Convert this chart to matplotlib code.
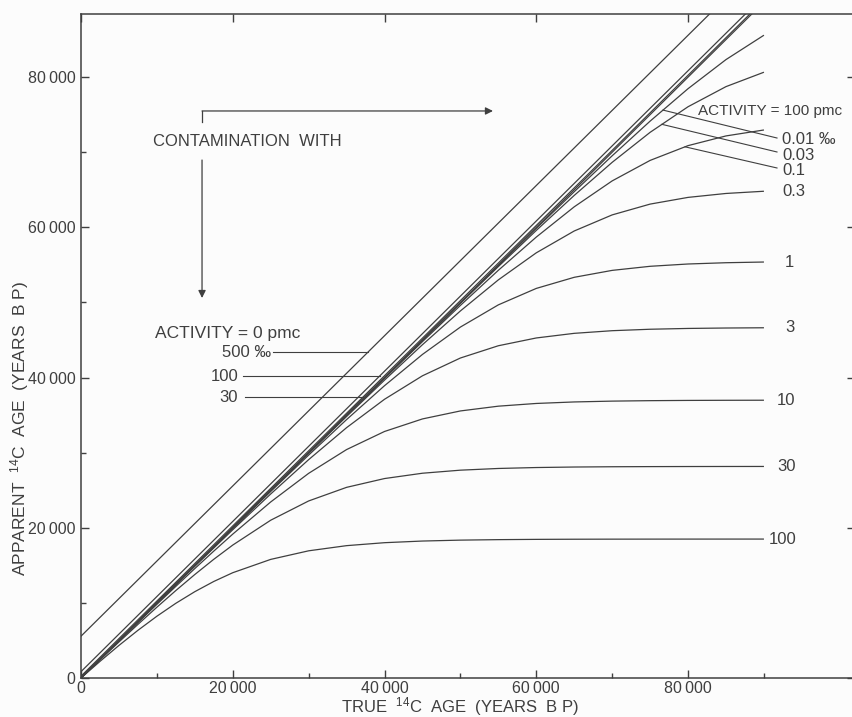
import numpy as np
import matplotlib
matplotlib.use("Agg")
import matplotlib.pyplot as plt

plt.rcParams["font.family"] = ["Liberation Sans", "DejaVu Sans"]
plt.rcParams["mathtext.default"] = "regular"

# true 14C age (years BP) at which the curves are tabulated
TRUE_AGE = [0, 2500, 5000, 7500, 10000, 12500, 15000, 17500, 20000, 25000, 30000,
            35000, 40000, 45000, 50000, 55000, 60000, 65000, 70000, 75000, 80000,
            85000, 90000]

# apparent age after contamination with modern carbon (activity = 100 pmc)
MOD_0_01 = [0, 2500, 5000, 7500, 10000, 12500, 15000, 17500, 19999, 24998, 29997,
            34994, 39988, 44978, 49960, 54925, 59860, 64742, 69525, 74137, 78459,
            82332, 85577]
MOD_0_03 = [0, 2500, 5000, 7500, 9999, 12499, 14999, 17498, 19997, 24995, 29990,
            34981, 39965, 44935, 49879, 54777, 59588, 64249, 68653, 72647, 76054,
            78732, 80650]
MOD_0_1 = [0, 2500, 4999, 7499, 9998, 12497, 14996, 17494, 19991, 24983, 29967,
           34938, 39885, 44786, 49605, 54278, 58703, 62730, 66181, 68909, 70875,
           72168, 72960]
MOD_0_3 = [0, 2499, 4998, 7496, 9994, 12491, 14987, 17481, 19973, 24948, 29902,
           34816, 39659, 44374, 48869, 53005, 56606, 59513, 61654, 63092, 63985,
           64508, 64803]
MOD_1 = [0, 2497, 4993, 7488, 9980, 12470, 14956, 17437, 19912, 24829, 29678,
         34404, 38916, 43080, 46722, 49677, 51867, 53346, 54268, 54811, 55118,
         55287, 55380]
MOD_3 = [0, 2491, 4979, 7463, 9941, 12410, 14869, 17313, 19738, 24499, 29071,
         33330, 37109, 40234, 42602, 44234, 45270, 45886, 46237, 46431, 46538,
         46595, 46627]
MOD_10 = [0, 2471, 4931, 7377, 9804, 12205, 14572, 16894, 19157, 23437, 27247,
          30412, 32821, 34491, 35554, 36189, 36551, 36752, 36862, 36922, 36955,
          36972, 36981]
MOD_30 = [0, 2412, 4795, 7136, 9425, 11646, 13779, 15805, 17699, 21006, 23571,
          25382, 26554, 27262, 27669, 27896, 28020, 28088, 28124, 28143, 28154,
          28160, 28163]
MOD_100 = [0, 2212, 4335, 6347, 8225, 9948, 11494, 12853, 14018, 15791, 16933,
           17620, 18014, 18234, 18355, 18420, 18456, 18475, 18485, 18490, 18493,
           18495, 18496]

# contamination with dead carbon (activity = 0 pmc): straight lines
LINE_TRUE = [0, 90000]
NO_CONTAM = [0, 90000]
DEAD_500 = [5568, 95568]
DEAD_100 = [846, 90846]
DEAD_30 = [245, 90245]

X_TICKS = [0, 20000, 40000, 60000, 80000]
X_TICK_LABELS = ["0", "20\u2009000", "40\u2009000", "60\u2009000", "80\u2009000"]
Y_TICKS = [0, 20000, 40000, 60000, 80000]
Y_TICK_LABELS = ["0", "20\u2009000", "40\u2009000", "60\u2009000", "80\u2009000"]

INK = "#3f3f3f"
FS = 12

fig = plt.figure(figsize=(8.52, 7.17), dpi=100)
fig.patch.set_facecolor("#fcfcfc")
ax = fig.add_axes([81 / 852, 39 / 717, 774 / 852, 664 / 717])
ax.set_facecolor("none")
ax.set_xlim(0, 102000)
ax.set_ylim(0, 88400)

modern = [MOD_0_01, MOD_0_03, MOD_0_1, MOD_0_3, MOD_1, MOD_3, MOD_10, MOD_30, MOD_100]
for curve in modern:
    ax.plot(TRUE_AGE, curve, color=INK, lw=0.9, solid_capstyle="butt")
for line in [NO_CONTAM, DEAD_30, DEAD_100, DEAD_500]:
    ax.plot(LINE_TRUE, line, color=INK, lw=0.9)

# axes frame and ticks
for s in ax.spines.values():
    s.set_color(INK)
    s.set_linewidth(1.1)
ax.set_xticks(X_TICKS, X_TICK_LABELS)
ax.set_yticks(Y_TICKS, Y_TICK_LABELS)
ax.set_xticks(np.arange(10000, 100000, 20000), minor=True)
ax.set_yticks(np.arange(10000, 80000, 20000), minor=True)
ax.tick_params(which="major", direction="in", length=5.5, width=1.0, color=INK,
               top=True, right=True, labelsize=11.5, labelcolor=INK)
ax.tick_params(which="minor", direction="in", length=3.5, width=1.0, color=INK,
               top=False, right=False)
ax.tick_params(axis="x", pad=2.5)
ax.tick_params(axis="y", pad=4)

ax.set_xlabel("TRUE  $^{14}$C  AGE  (YEARS  B P)", fontsize=FS, color=INK)
ax.xaxis.set_label_coords((460 - 81) / 774, -(707 - 678) / 664)
ax.xaxis.label.set_va("center")
ax.set_ylabel("APPARENT  $^{14}$C  AGE  (YEARS  B P)", fontsize=12.5, color=INK,
              rotation_mode="anchor")
ax.yaxis.set_label_coords((20 - 81) / 774, (678 - 428) / 664)
ax.yaxis.label.set_va("center")
ax.yaxis.label.set_ha("center")

# contamination arrows
ax.plot([15950, 15950], [75490, 74020], color=INK, lw=0.9)
ax.annotate("", xy=(54290, 75490), xytext=(15950, 75490),
            arrowprops=dict(arrowstyle="-|>", color=INK, lw=0.9, mutation_scale=11,
                            shrinkA=0, shrinkB=0))
ax.annotate("", xy=(15950, 50590), xytext=(15950, 68960),
            arrowprops=dict(arrowstyle="-|>", color=INK, lw=0.9, mutation_scale=11,
                            shrinkA=0, shrinkB=0))
ax.text(9490, 71360, "CONTAMINATION  WITH", fontsize=FS, color=INK, va="center")

# dead carbon labels
ax.text(9750, 45800, "ACTIVITY = 0 pmc", fontsize=12.5, color=INK, va="center")
dead_labels = [("500 \u2030", DEAD_500, 25040, 25300, 43400),
               ("100", DEAD_100, 20820, 21350, 40200),
               ("30", DEAD_30, 20690, 21610, 37410)]
for txt, line, xt, x0, y in dead_labels:
    ax.text(xt, y, txt, fontsize=FS, color=INK, ha="right", va="center")
    x1 = np.interp(y, line, LINE_TRUE)
    ax.plot([x0, x1], [y, y], color=INK, lw=0.8)

# modern carbon labels
ax.text(81310, 75490, "ACTIVITY = 100 pmc", fontsize=11, color=INK, va="center")
mod_labels = [("0.01 \u2030", MOD_0_01, 76700, 71890, 71630),
              ("0.03", MOD_0_03, 76560, 70030, 69500),
              ("0.1", MOD_0_1, 79600, 67900, 67500)]
for txt, curve, x0, y1, yt in mod_labels:
    y0 = np.interp(x0, TRUE_AGE, curve)
    ax.plot([x0, 91720], [y0, y1], color=INK, lw=0.8)
    ax.text(92380, yt, txt, fontsize=FS, color=INK, va="center")

end_labels = [("0.3", MOD_0_3, 92380), ("1", MOD_1, 92770), ("3", MOD_3, 92770),
              ("10", MOD_10, 91720), ("30", MOD_30, 91720), ("100", MOD_100, 90600)]
for txt, curve, xt in end_labels:
    ax.text(xt, curve[-1], txt, fontsize=FS, color=INK, va="center")

fig.savefig("out.png", dpi=100, facecolor=fig.get_facecolor())
